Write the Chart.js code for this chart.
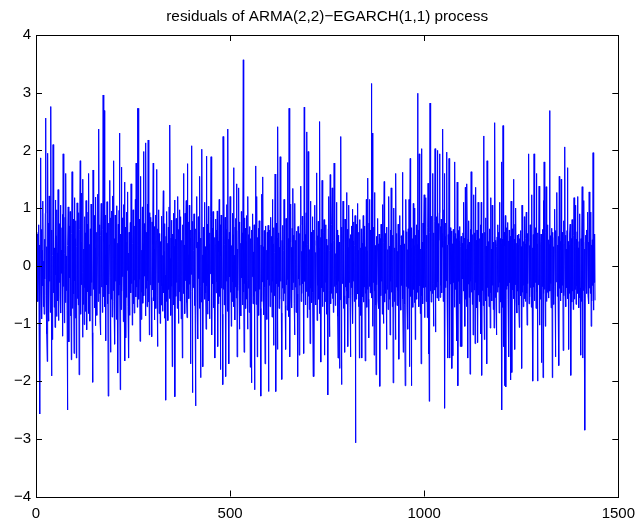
<!DOCTYPE html>
<html>
<head>
<meta charset="utf-8">
<script src="https://cdn.jsdelivr.net/npm/chart.js@4.4.1/dist/chart.umd.min.js"></script>
<style>
html, body { margin: 0; padding: 0; background: #fff; }
canvas { display: block; }
</style>
</head>
<body>
<canvas id="chartResid" width="643" height="527"></canvas>
<script>
const chartTitle = "residuals of ARMA(2,2)\u2212EGARCH(1,1) process";
const xTicks = [0, 500, 1000, 1500];
const yTicks = [-4, -3, -2, -1, 0, 1, 2, 3, 4];

// standardized residuals, samples 1..1440
const residuals = [
  0.58, 0.42, -0.31, 0.55, -0.62, -0.18, 0.71, -1.05, 0.36, -2.57, 0.12, 1.87, -0.44, 0.63, -0.92, 0.27, -0.35, 1.12, -0.71, 0.08,
  -0.84, 0.46, -0.23, 0.91, 2.56, -0.52, 0.33, -1.18, -1.66, 1.95, -0.38, 0.74, -0.96, 1.21, -0.27, 0.15, -0.81, 2.76, 0.41, -1.91,
  0.62, -1.28, 0.18, 2.10, -0.47, 0.86, -0.72, 0.31, -1.07, 1.14, -0.16, 0.52, -0.88, 0.97, 0.23, -0.61, 1.32, -0.95, 0.44, -0.29,
  0.73, -0.54, 1.05, -0.82, 0.27, -0.13, 0.66, 0.89, -1.22, 1.94, -0.36, 0.48, -0.99, 0.21, 0.84, -0.64, 1.60, -0.43, 0.17, -0.77,
  -2.50, 0.35, 1.02, -0.58, -1.32, 0.69, -0.21, 0.94, -0.87, 0.39, -1.63, 0.56, 1.63, -0.74, 0.12, 0.81, -0.49, -1.52, 1.18, -0.26,
  0.47, -0.91, 0.78, -1.60, 0.33, 1.09, -0.57, 0.24, -0.68, 0.92, -1.89, 0.15, 0.63, 1.82, -0.84, 0.41, -0.33, 1.26, -0.12, -1.24,
  1.50, -0.67, 0.29, -1.02, 0.85, -0.38, 0.57, -0.79, 1.13, 0.06, -1.11, 0.72, -0.45, 0.93, -0.83, 1.60, -0.18, 0.37, -0.96, 0.64,
  -0.52, 1.07, -0.29, 0.48, -1.16, -2.02, 1.66, -0.41, 0.22, 0.87, -0.73, 0.31, -1.04, 1.19, -0.23, 0.58, -0.86, 0.16, 1.24, -0.62,
  0.34, 2.37, -0.48, 0.71, -0.95, -1.20, 0.52, 1.08, -0.37, 0.26, -0.81, 0.63, 2.96, -0.54, 0.42, 2.69, -0.71, 0.19, 0.88, -1.30,
  0.57, -0.33, 1.11, -0.66, 0.28, -2.26, 0.74, -0.49, 0.36, 1.48, -0.21, -1.50, 0.83, -0.58, 0.95, -0.89, 0.14, 1.21, -0.43, 1.82,
  -0.62, 0.47, -1.36, 0.88, -0.27, 0.61, -0.93, 1.04, -0.15, 0.39, -1.86, 0.72, -0.51, 0.96, 2.30, -0.34, -2.15, 0.55, -0.76, 1.71,
  -0.44, 0.83, -0.19, 0.32, -0.97, 1.06, -0.38, 1.45, -1.65, 0.67, -1.25, 0.41, -0.55, 0.93, -0.08, 1.28, -0.71, 0.22, -1.60, 0.58,
  -0.86, 0.26, 0.75, -0.47, 1.42, -0.31, 0.54, -1.03, 0.38, 0.97, -0.66, 0.12, -0.82, 0.69, -0.25, 1.15, -0.54, 1.78, -0.37, 0.46,
  -0.72, 2.73, 0.35, 2.73, -0.58, 0.81, -0.24, -1.31, 0.49, 1.55, -0.93, 0.27, -0.46, 1.02, -0.65, 0.38, 1.98, -0.52, 0.73, -0.18,
  0.61, -0.87, 2.13, -0.39, 0.58, -0.71, 1.07, -0.26, 2.18, -0.63, 0.44, -1.20, 0.92, -0.33, 0.15, 0.84, -0.55, -1.23, 0.76, -0.42,
  0.37, 1.78, -0.61, 0.29, -0.94, 0.68, -0.17, 0.88, -0.74, 0.43, 1.67, -0.51, -1.40, 0.64, -0.29, 0.97, -0.83, 0.22, 0.56, -1.00,
  0.42, -0.68, 0.86, -0.35, 0.18, -0.79, 0.62, 1.30, -0.47, 0.25, -0.91, 0.73, -0.16, -2.33, 0.51, -0.62, 0.94, -0.28, 0.39, -0.95,
  0.67, -0.41, 1.02, -0.57, 2.44, 0.13, -0.86, 0.48, 0.79, -0.36, -1.75, 0.55, -0.22, 0.91, -0.68, 0.34, 1.14, -2.27, 0.46, -0.53,
  0.82, -0.29, 0.58, -0.74, 1.20, 0.07, -1.00, 0.63, -0.45, 0.97, -0.61, 0.28, 0.85, -0.92, 0.44, -0.18, -1.60, 0.71, -0.33, 1.60,
  -0.48, 0.36, -0.83, 0.91, -0.26, 0.54, 1.13, -0.64, -0.90, 1.77, -0.41, 0.19, 0.76, -0.57, 1.05, -0.32, 0.48, -1.70, 0.62, -0.15,
  2.08, -0.45, -2.20, 0.77, -0.38, 0.26, 0.90, -0.69, 0.53, -0.87, -2.43, 0.64, 0.31, 1.20, -0.56, 0.41, -1.27, 0.85, -0.22, 0.58,
  -0.74, 1.55, -0.36, -1.94, 0.48, -0.63, 2.02, 0.19, -0.82, -1.75, 0.67, -0.29, 0.44, 1.10, -0.58, 0.33, -0.47, -1.10, 1.90, -0.35,
  0.72, -0.84, 0.27, 1.03, -0.61, 0.38, -0.92, 0.57, -0.14, 0.86, 1.89, -0.46, -1.20, 0.65, -0.31, 0.94, -0.73, 0.60, -0.25, 0.49,
  -1.60, 0.36, 0.81, -0.47, 0.62, -0.28, 0.95, -1.40, 0.43, -0.66, 0.24, 1.15, -0.53, 0.71, -1.80, 0.17, 0.88, -0.39, 0.52, -0.84,
  -2.06, 2.24, -0.41, 2.21, -0.68, 0.37, 0.84, -0.55, -1.92, 0.63, -0.27, 1.06, -0.79, 2.37, -0.33, 0.46, -1.70, 0.58, -0.19, 1.20,
  -0.46, 0.73, -1.05, 0.35, -0.62, 0.91, -0.28, 0.54, 1.70, -0.71, 0.18, -0.94, 0.67, -0.37, 0.82, -0.56, 1.42, -1.58, 0.29, -0.43,
  0.61, 1.35, -0.34, -1.10, 0.76, -0.52, 0.39, -0.87, 0.94, -0.21, 0.57, -0.68, 0.28, 3.57, -0.46, -1.50, 0.83, -0.31, 0.65, -0.74,
  0.42, -0.58, 0.87, -0.26, -1.10, 1.20, -0.39, 0.54, -0.81, 0.33, 0.68, -1.76, 0.47, -0.35, -2.03, 0.62, -0.19, 0.90, -0.66, 0.24,
  -0.53, 0.71, -2.15, 0.38, -0.44, 1.73, -0.67, 0.26, 1.20, -1.58, 0.49, -0.32, 0.65, -0.86, 0.78, -0.41, 0.53, -0.74, -2.26, 0.36,
  -0.62, 1.24, -0.28, 1.54, -0.49, 0.33, -0.85, 0.61, -0.37, -1.70, 0.42, 0.69, -0.55, 0.27, -0.93, 0.58, -0.24, 0.70, -2.18, 0.45,
  -0.34, 0.62, -0.71, 0.29, 0.84, -0.46, 0.51, -0.89, 1.15, -0.27, 0.38, -1.38, 0.66, -0.52, 0.23, 1.59, -0.43, -2.18, 0.74, -0.31,
  0.48, -1.45, 2.41, -0.36, 0.57, -0.74, 0.32, -0.58, 1.89, -0.27, 0.63, -0.82, -1.97, 0.44, -0.39, 0.70, -0.61, 0.26, 1.15, -0.48,
  0.36, -0.69, -1.45, 0.82, -0.33, 0.59, -0.77, 1.79, -0.24, 0.47, -0.88, 2.73, 0.18, -1.58, 0.41, 1.07, -0.56, 0.32, -0.73, 0.65,
  -0.42, 1.34, -0.29, 0.53, -0.66, -1.20, 1.08, -0.37, 0.44, -0.81, 0.27, 0.60, -0.49, -1.92, 0.68, -0.23, 0.39, -1.55, 0.56, -0.34,
  0.71, 1.38, -0.62, 0.25, -0.48, 0.86, -0.31, 0.42, -0.79, -1.52, 2.75, -0.27, 0.54, -0.68, 0.33, 0.92, -0.45, 2.32, -0.90, 0.37,
  1.98, -0.53, 0.41, -0.76, 0.28, -1.35, 1.12, -0.39, 0.58, -0.64, 0.17, 0.85, -0.46, -1.92, 0.62, -1.92, 0.35, 1.05, -0.57, 0.23,
  -0.68, 0.44, 1.61, -0.95, 0.52, -0.34, 0.77, -0.58, 0.31, -0.83, 2.50, -0.27, 0.49, -1.67, 0.63, -0.38, 1.48, -0.71, 0.26, -0.45,
  0.57, 0.80, -1.55, 0.38, -0.62, 0.71, -0.29, 0.46, -0.84, 0.35, -0.51, -2.24, 0.64, 1.20, -0.43, -1.23, 0.27, 1.58, -0.66, 0.39,
  -0.48, 0.72, 1.35, -0.57, 0.29, -0.81, 0.44, 1.78, -0.36, 0.58, -0.69, 0.21, -0.47, 1.10, -0.33, 0.62, -0.88, -1.60, 0.53, -0.27,
  0.41, -1.78, 0.36, -0.59, 2.24, -0.42, -2.06, 0.67, -0.31, 0.48, 1.12, -0.74, 0.26, -0.52, -1.50, 0.81, -0.37, 0.58, -0.66, 1.27,
  -0.44, 0.63, -1.40, 0.32, -0.56, 1.05, -0.29, 0.47, -0.72, -1.58, 0.54, -0.38, 0.69, -0.51, 0.98, -1.00, 0.43, -0.27, 0.76, -0.62,
  0.35, 0.87, -3.07, 0.46, -0.58, 0.72, -0.33, 1.08, -0.49, 0.27, -0.71, 0.58, -1.60, 0.80, -0.42, 0.31, -0.86, 0.64, -1.60, 0.39,
  -0.54, 0.28, 0.87, -0.63, 0.45, -0.37, 0.69, -1.65, 0.33, -0.48, 1.15, -0.72, 0.26, -0.41, 1.52, -0.58, -1.25, 0.74, -0.36, 1.15,
  -0.47, 0.62, -0.38, 3.16, -0.56, 2.30, -1.05, 0.43, -0.29, 0.67, -1.55, 1.27, -0.44, 0.35, -0.68, -1.89, 0.51, -0.33, 0.26, 0.82,
  -0.61, 0.38, -0.74, 0.55, -0.36, -2.09, 0.47, -0.52, 0.72, -0.27, 0.63, -0.84, 1.06, -0.39, -1.00, 0.41, 1.46, -0.63, 0.29, -0.48,
  0.56, -0.32, -1.45, 0.67, -0.41, 0.28, -0.76, 0.49, 1.20, -0.58, 0.34, -1.20, 0.62, -0.27, 1.35, -0.46, 0.38, -0.71, 0.53, -2.03,
  0.44, 1.00, -0.62, 0.31, -0.48, -1.28, 1.60, -0.37, 0.56, -0.69, 0.25, -0.43, 0.72, -0.31, -1.62, 0.48, 0.87, -0.54, 0.36, -0.77,
  0.52, -0.34, 0.27, 1.62, -0.58, -1.50, 0.61, -0.42, 0.38, -0.67, -2.08, 0.45, 1.15, -0.36, 0.59, -0.73, 0.28, -1.10, 0.64, -0.39,
  1.15, -1.75, 0.42, 1.86, -0.53, 0.31, -2.08, 0.66, -0.29, 0.47, -0.72, 1.08, -0.41, 0.35, -0.64, 1.00, -1.28, 0.53, -0.26, 0.71,
  -0.58, 0.37, 2.99, -0.46, 0.62, -0.71, 1.94, -0.35, 0.48, -0.83, 0.29, -1.70, 2.03, -0.52, 0.41, -0.66, 0.74, -0.38, 0.56, 1.23,
  -0.90, 0.46, -0.37, 1.18, -0.62, 0.53, 0.28, -0.90, 0.67, 1.43, -1.53, 0.39, -2.35, 0.58, 2.82, -0.44, 0.71, -0.63, 0.34, 0.86,
  -0.48, 1.60, -0.31, -1.05, 0.57, -0.42, 0.76, 2.03, -1.15, 0.64, -0.37, 0.85, -0.56, 2.00, -0.28, 0.73, -0.61, 0.44, 0.92, 1.94,
  -0.55, 0.68, -0.34, 0.81, -0.47, 0.56, 0.32, 2.37, -0.62, 0.43, 0.97, 1.60, -2.47, 0.51, -0.38, 0.74, -0.26, 1.97, -0.59, 0.36,
  -1.60, 0.54, 0.37, 1.86, -0.48, -1.60, 0.66, -0.32, 0.42, 0.60, -1.78, 0.38, -0.47, -1.56, 0.63, -0.29, 0.51, -0.72, 1.80, -0.41,
  0.56, -0.34, 0.47, -1.30, 1.45, -0.52, -2.08, 0.61, -0.27, 0.43, -0.66, 0.68, -1.40, 0.33, 0.51, -0.48, -1.40, 0.39, -0.23, 0.57,
  -0.44, 1.10, -0.36, 0.48, -1.05, 1.36, -0.58, 0.29, -0.71, 1.42, 0.37, -1.60, 0.46, -0.32, 0.78, -0.55, 0.41, -1.88, 0.63, -0.27,
  1.63, -0.46, 0.38, -0.67, 0.54, -1.20, 0.31, 1.23, -0.42, 0.57, -1.35, 1.36, -0.29, 0.44, -0.73, 0.62, -0.38, -1.33, 1.10, -0.51,
  0.39, -0.62, 0.47, -0.34, 0.71, -1.18, 1.10, -1.90, 0.56, -0.43, 0.32, -0.69, 2.25, -0.37, -1.28, 0.58, -0.46, 0.83, -0.61, 0.34,
  -1.70, 1.82, -0.38, 1.60, -0.53, 0.42, -0.71, 0.36, 0.64, -1.08, 1.18, -0.47, 0.29, -0.61, 1.05, -0.34, 0.52, -0.76, 0.41, -1.08,
  0.37, 2.48, -0.55, 0.44, -0.68, -1.20, 0.33, 0.50, -0.46, 0.71, -0.37, 0.58, -0.82, 1.10, -0.29, 0.47, -0.63, 0.38, 1.80, -2.50,
  0.46, -0.72, 2.43, 0.31, -1.40, 0.58, -2.08, 0.34, 0.87, -2.10, 0.52, -0.41, 0.66, -0.35, 0.75, -0.58, 0.43, -1.58, 0.62, -0.29,
  0.51, -0.63, -1.98, 1.12, 0.37, -1.85, 0.64, -0.42, 0.28, 1.50, -0.57, 0.46, -1.45, 0.72, -0.33, 1.00, -0.61, 0.39, -0.82, 0.53,
  -0.44, 0.36, 0.55, -0.68, -1.07, 0.47, -0.39, 0.61, -0.52, 0.33, -1.78, 1.05, -0.46, 0.28, -0.71, 0.42, -0.34, 0.85, -0.57, 0.38,
  -0.62, 0.47, 0.93, -0.48, -1.03, 0.56, -0.31, 0.42, 1.94, -0.66, 0.35, -0.54, 0.71, -0.38, 0.49, -0.72, 1.23, -0.43, 0.31, -2.00,
  0.54, -0.37, 1.94, -0.61, 0.42, -0.29, 0.66, -0.74, 1.60, -0.45, 0.38, -2.00, 0.57, -0.33, 0.48, 1.38, -1.03, 0.44, -0.58, 0.36,
  0.55, -1.68, 0.42, -0.36, 0.63, -1.94, 1.13, -0.48, 1.80, -0.41, 0.34, -1.05, 0.57, 1.37, -0.62, 0.29, -0.46, 0.71, -0.38, 0.45,
  -0.56, 0.37, 2.69, -0.44, 0.52, -0.31, -0.73, 0.46, 0.65, -1.94, 0.58, -0.42, 0.33, -0.67, 0.49, 0.98, -0.36, -1.58, 0.61, -0.28,
  0.44, 1.27, -0.53, 0.36, -0.68, 0.51, -1.73, 1.55, -0.39, 0.42, -0.61, 0.27, 1.50, -0.47, 0.58, -0.34, 0.46, -1.47, 0.78, -0.52,
  0.38, 2.06, -0.46, 0.53, -0.71, 0.29, -0.38, 0.61, 1.70, -0.57, 0.42, -1.45, 0.36, -0.48, 0.55, 0.72, -0.31, -1.90, 0.47, -0.63,
  0.80, -0.44, 0.37, -0.76, 0.52, 1.18, -0.58, 0.33, -0.41, 1.05, -0.67, 0.46, -0.35, 0.59, 1.20, -0.48, 0.31, -0.73, 0.42, -0.56,
  0.90, -0.38, -1.55, 0.47, -0.62, 0.34, 1.37, -1.60, 0.52, -0.43, 1.13, -0.57, 0.29, -2.85, 0.41, 0.53, -0.36, 0.62, -0.48, 0.38,
  0.93, -0.52, 0.41, -0.66, 1.28, -0.39, 0.57, -0.48, 0.93, -1.05, 0.36, -0.61, 0.45, -0.34, 1.96, -0.77, 0.42, -0.29, 0.55, -0.60
];

const points = residuals.map((v, i) => ({ x: i + 1, y: v }));

const fontFamily = "'Liberation Sans', Arial, Helvetica, sans-serif";
const tickLen = 6;

function fmt(v) {
  return v < 0 ? "\u2212" + Math.abs(v) : String(v);
}

// box, inward ticks on all four sides and the title
const axesBox = {
  id: "axesBox",
  afterDraw(chart) {
    const ctx = chart.ctx;
    const a = chart.chartArea;
    const xs = chart.scales.x, ys = chart.scales.y;
    ctx.save();
    ctx.strokeStyle = "#000";
    ctx.lineWidth = 1;
    ctx.beginPath();
    xTicks.forEach(t => {
      const px = Math.round(xs.getPixelForValue(t)) + 0.5;
      ctx.moveTo(px, a.bottom); ctx.lineTo(px, a.bottom - tickLen);
      ctx.moveTo(px, a.top); ctx.lineTo(px, a.top + tickLen);
    });
    yTicks.forEach(t => {
      const py = Math.round(ys.getPixelForValue(t)) + 0.5;
      ctx.moveTo(a.left, py); ctx.lineTo(a.left + tickLen, py);
      ctx.moveTo(a.right, py); ctx.lineTo(a.right - tickLen, py);
    });
    ctx.stroke();
    ctx.strokeRect(Math.round(a.left) + 0.5, Math.round(a.top) + 0.5,
      Math.round(a.right - a.left), Math.round(a.bottom - a.top));
    ctx.fillStyle = "#000";
    ctx.font = "15.3px " + fontFamily;
    ctx.textAlign = "center";
    ctx.textBaseline = "alphabetic";
    ctx.fillText(chartTitle, (a.left + a.right) / 2, 21);
    ctx.restore();
  }
};

new Chart("chartResid", {
  type: "line",
  data: {
    datasets: [{
      data: points,
      borderColor: "#0000ff",
      borderWidth: 1,
      pointRadius: 0,
      tension: 0,
      fill: false,
    }],
  },
  options: {
    responsive: false,
    animation: false,
    parsing: false,
    layout: { padding: { top: 35, right: 21, left: 0, bottom: 0 } },
    plugins: {
      legend: { display: false },
      tooltip: { enabled: false },
    },
    scales: {
      x: {
        type: "linear",
        min: 0,
        max: 1500,
        afterBuildTicks: s => { s.ticks = xTicks.map(v => ({ value: v })); },
        afterFit: s => { s.height = 30.5; },
        grid: { display: false, drawTicks: false },
        border: { display: false },
        ticks: {
          color: "#000",
          padding: 8,
          maxRotation: 0,
          font: { family: fontFamily, size: 15 },
          callback: v => fmt(v),
        },
      },
      y: {
        min: -4,
        max: 4,
        afterBuildTicks: s => { s.ticks = yTicks.map(v => ({ value: v })); },
        afterFit: s => { s.width = 36; },
        grid: { display: false, drawTicks: false },
        border: { display: false },
        ticks: {
          color: "#000",
          padding: 5,
          font: { family: fontFamily, size: 15 },
          callback: v => fmt(v),
        },
      },
    },
  },
  plugins: [axesBox],
});
</script>
</body>
</html>
